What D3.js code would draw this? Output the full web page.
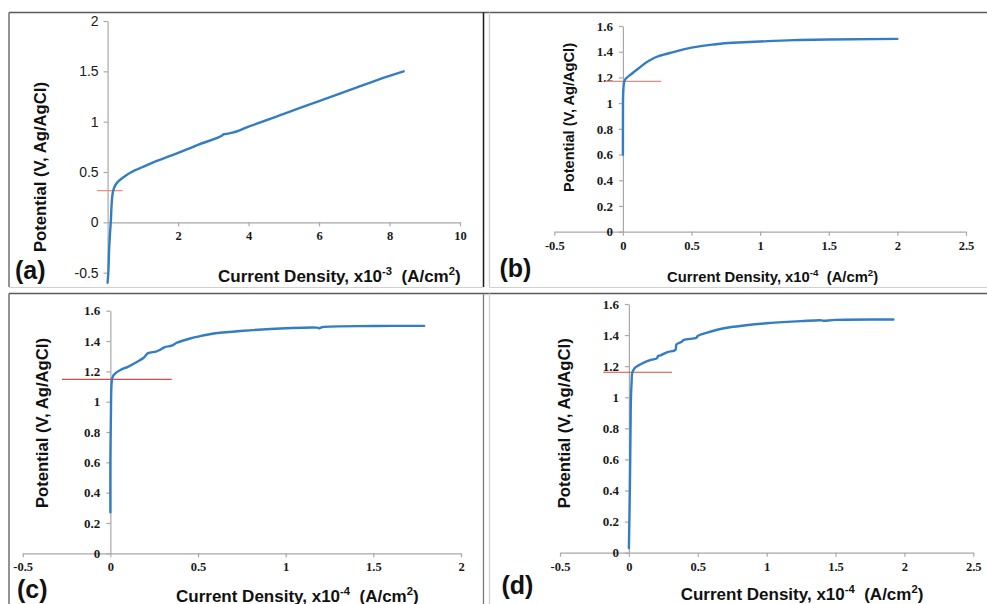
<!DOCTYPE html>
<html><head><meta charset="utf-8">
<script src="https://cdn.jsdelivr.net/npm/d3@7"></script>
<style>body{margin:0;background:#fff}svg{display:block}</style>
</head><body><svg id="chart" width="987" height="604"></svg>
<script>
// ---------------- data ----------------
const panelLabels = ["(a)", "(b)", "(c)", "(d)"];
const yTitleText = "Potential (V, Ag/AgCl)";
const xTitleText = "Current Density, x10";
const xExponents = ["-3", "-4", "-4", "-4"];

// (a) current density x10^-3 A/cm2, potential V
const aCurrent   = [0.0, 0.02, 0.045, 0.07, 0.09, 0.11, 0.13, 0.16, 0.2, 0.27, 0.42, 0.68, 1.0, 1.4, 2.0, 2.6, 3.25, 3.3, 3.38, 4.0, 5.0, 6.0, 7.0, 8.0, 8.4];
const aPotential = [-0.6, -0.5, -0.25, -0.1, 0.0, 0.15, 0.25, 0.315, 0.355, 0.395, 0.44, 0.5, 0.55, 0.61, 0.69, 0.775, 0.862, 0.877, 0.879, 0.952, 1.078, 1.204, 1.33, 1.455, 1.5];
// (b)
const bCurrent   = [0, 0.0005, 0.003, 0.008, 0.02, 0.06, 0.12, 0.19, 0.26, 0.36, 0.5, 0.65, 0.8, 1.0, 1.25, 1.5, 2.0];
const bPotential = [0.6, 1.0, 1.1, 1.16, 1.19, 1.225, 1.275, 1.33, 1.365, 1.395, 1.432, 1.455, 1.47, 1.48, 1.49, 1.495, 1.5];
// (c)
const cCurrent   = [0, 0, 0.003, 0.006, 0.01, 0.019, 0.057, 0.1, 0.156, 0.19, 0.215, 0.26, 0.28, 0.31, 0.35, 0.38, 0.45, 0.5, 0.6, 0.76, 1.0, 1.18, 1.19, 1.21, 1.5, 1.79];
const cPotential = [0.27, 0.6, 0.9, 1.1, 1.15, 1.176, 1.209, 1.23, 1.265, 1.29, 1.32, 1.33, 1.34, 1.36, 1.37, 1.389, 1.415, 1.429, 1.451, 1.468, 1.484, 1.488, 1.484, 1.492, 1.499, 1.5];
// (d)
const dCurrent   = [0, 0.007, 0.012, 0.015, 0.02, 0.024, 0.041, 0.07, 0.109, 0.16, 0.205, 0.21, 0.23, 0.28, 0.338, 0.345, 0.38, 0.4, 0.49, 0.5, 0.568, 0.69, 0.85, 1.0, 1.25, 1.4, 1.41, 1.5, 1.92];
const dPotential = [0.03, 0.4, 0.8, 1.0, 1.1, 1.155, 1.187, 1.205, 1.223, 1.24, 1.251, 1.265, 1.27, 1.29, 1.305, 1.34, 1.355, 1.369, 1.383, 1.395, 1.416, 1.444, 1.463, 1.476, 1.49, 1.495, 1.492, 1.498, 1.5];

// axis domains and ticks
const aXDomain = [0, 10],     aYDomain = [-0.5, 2];
const bXDomain = [-0.5, 2.5], bYDomain = [0, 1.6];
const cXDomain = [-0.5, 2],   cYDomain = [0, 1.6];
const dXDomain = [-0.5, 2.5], dYDomain = [0, 1.6];
const aXTicks = [2, 4, 6, 8, 10];
const aYTicks = [-0.5, 0, 0.5, 1, 1.5, 2];
const bXTicks = [-0.5, 0, 0.5, 1, 1.5, 2, 2.5];
const cXTicks = [-0.5, 0, 0.5, 1, 1.5, 2];
const dXTicks = [-0.5, 0, 0.5, 1, 1.5, 2, 2.5];
const potTicks = [0, 0.2, 0.4, 0.6, 0.8, 1, 1.2, 1.4, 1.6];

// red reference (breakdown) lines: potential, current from, current to
const refPotential = [0.315, 1.169, 1.147, 1.161];
const refFrom = [-0.3, -0.13, -0.276, -0.186];
const refTo   = [0.43, 0.28, 0.35, 0.313];

// ---------------- layout / style ----------------
const blue = "#337ec3";
const axisColor = "#a8a8a8";
const sans = "'Liberation Sans', Arial, sans-serif";
const serif = "'Liberation Serif', 'Times New Roman', serif";

const panels = [
  { cur: aCurrent, pot: aPotential, xd: aXDomain, yd: aYDomain, xt: aXTicks, yt: aYTicks,
    xr: [107.6, 460], yr: [272.7, 21], red: "#f08a80", narrowY: true, mono: true,
    yT: { cx: 40.3, cy: 167, len: 170, fs: 16.5 },
    xT: { x0: 218, x1: 460, base: 281.5, fs: 17 },
    lab: { x: 15, base: 278.5 } },
  { cur: bCurrent, pot: bPotential, xd: bXDomain, yd: bYDomain, xt: bXTicks, yt: potTicks,
    xr: [554.3, 966], yr: [231.7, 26], red: "#e88a84", mono: true,
    yT: { cx: 568.8, cy: 117.5, len: 149, fs: 15 },
    xT: { x0: 667, x1: 878, base: 281.5, fs: 14.8 },
    lab: { x: 499.5, base: 277 } },
  { cur: cCurrent, pot: cPotential, xd: cXDomain, yd: cYDomain, xt: cXTicks, yt: potTicks,
    xr: [22.7, 461], yr: [553.3, 310.7], red: "#dd4a44",
    yT: { cx: 42, cy: 423, len: 170, fs: 16.5 },
    xT: { x0: 176, x1: 417, base: 601.5, fs: 17 },
    lab: { x: 17, base: 597.5 } },
  { cur: dCurrent, pot: dPotential, xd: dXDomain, yd: dYDomain, xt: dXTicks, yt: potTicks,
    xr: [560, 973.3], yr: [552.7, 304], red: "#dd4a44",
    yT: { cx: 564.2, cy: 423.3, len: 170, fs: 16.5 },
    xT: { x0: 680.7, x1: 921, base: 600, fs: 17 },
    lab: { x: 501.5, base: 594 } }
];

const svg = d3.select("#chart");
svg.append("rect").attr("width", 987).attr("height", 604).attr("fill", "#fff");

// panel frames
const frame = svg.append("g").attr("fill", "none");
function ln(x1, y1, x2, y2, c, w) {
  frame.append("line").attr("x1", x1).attr("y1", y1).attr("x2", x2).attr("y2", y2)
    .attr("stroke", c).attr("stroke-width", w);
}
ln(9, 12.5, 987, 12.5, "#5a5a5a", 1.3);
ln(9, 12.5, 9, 287, "#5a5a5a", 1.3);
ln(483.5, 12.5, 483.5, 287, "#1a1a1a", 1.5);
ln(489.5, 12.5, 489.5, 287, "#cfcfcf", 1.3);
ln(9, 287.5, 483.5, 287.5, "#d0d0d0", 1.2);
ln(489.5, 287.5, 987, 287.5, "#d0d0d0", 1.2);
ln(9, 293.5, 987, 293.5, "#5a5a5a", 1.3);
ln(9, 293.5, 9, 604, "#5a5a5a", 1.3);
ln(483.5, 293.5, 483.5, 604, "#7a7a7a", 1.3);
ln(489.5, 293.5, 489.5, 604, "#d0d0d0", 1.3);

panels.forEach((p, i) => {
  const g = svg.append("g");
  const x = d3.scaleLinear().domain(p.xd).range(p.xr);
  const y = d3.scaleLinear().domain(p.yd).range(p.yr);
  const fmt = d => String(d);

  // x axis (at potential 0)
  const gx = g.append("g").attr("transform", `translate(0,${y(0)})`)
    .call(d3.axisBottom(x).tickValues(p.xt).tickFormat(fmt).tickSize(4).tickSizeOuter(0).tickPadding(5));
  // y axis (at current 0)
  const gy = g.append("g").attr("transform", `translate(${x(0)},0)`)
    .call(d3.axisLeft(y).tickValues(p.yt).tickFormat(fmt).tickSize(4).tickSizeOuter(0).tickPadding(p.narrowY ? 5 : 6));
  [gx, gy].forEach(a => {
    a.select(".domain").attr("stroke", axisColor).attr("stroke-width", 1.2);
    a.selectAll(".tick line").attr("stroke", axisColor).attr("stroke-width", 1.2);
  });
  gx.selectAll(".tick text").attr("font-family", serif).attr("font-weight", "bold")
    .attr("font-size", 12.5).attr("fill", "#1a1a1a");
  if (p.narrowY) {
    gy.selectAll(".tick text").attr("font-family", "'Liberation Sans Narrow', 'Liberation Sans', Arial, sans-serif")
      .attr("font-size", 14).attr("fill", "#1a1a1a").attr("font-weight", "normal");
  } else {
    gy.selectAll(".tick text").attr("font-family", serif).attr("font-weight", "bold")
      .attr("font-size", 13).attr("fill", "#1a1a1a");
  }

  // red reference line
  g.append("line")
    .attr("x1", x(refFrom[i])).attr("x2", x(refTo[i]))
    .attr("y1", y(refPotential[i])).attr("y2", y(refPotential[i]))
    .attr("stroke", p.red).attr("stroke-width", 1.2);

  // polarization curve
  const pts = p.cur.map((c, k) => [c, p.pot[k]]);
  const line = d3.line().x(d => x(d[0])).y(d => y(d[1]))
    .curve(p.mono ? d3.curveMonotoneY : d3.curveCatmullRom.alpha(0.5));
  g.append("path").datum(pts).attr("d", line)
    .attr("fill", "none").attr("stroke", blue).attr("stroke-width", 2.4)
    .attr("stroke-linejoin", "round").attr("stroke-linecap", "round");

  // y title
  g.append("text")
    .attr("transform", `translate(${p.yT.cx},${p.yT.cy}) rotate(-90)`)
    .attr("text-anchor", "middle").attr("dominant-baseline", "central")
    .attr("font-family", sans).attr("font-weight", "bold").attr("font-size", p.yT.fs)
    .attr("fill", "#111")
    .attr("textLength", p.yT.len).attr("lengthAdjust", "spacingAndGlyphs")
    .text(yTitleText);

  // x title with superscripts
  const xt = g.append("text")
    .attr("x", p.xT.x0).attr("y", p.xT.base)
    .attr("font-family", sans).attr("font-weight", "bold").attr("font-size", p.xT.fs)
    .attr("fill", "#111").style("white-space", "pre");
  xt.append("tspan").text(xTitleText);
  xt.append("tspan").attr("dy", -p.xT.fs * 0.4).attr("font-size", p.xT.fs * 0.66).text(xExponents[i]);
  xt.append("tspan").attr("dy", p.xT.fs * 0.4).text("  (A/cm");
  xt.append("tspan").attr("dy", -p.xT.fs * 0.4).attr("font-size", p.xT.fs * 0.66).text("2");
  xt.append("tspan").attr("dy", p.xT.fs * 0.4).text(")");

  // panel label
  g.append("text").attr("x", p.lab.x).attr("y", p.lab.base)
    .attr("font-family", sans).attr("font-weight", "bold")
    .attr("font-size", 25).attr("fill", "#111").text(panelLabels[i]);
});
</script>
</body></html>
